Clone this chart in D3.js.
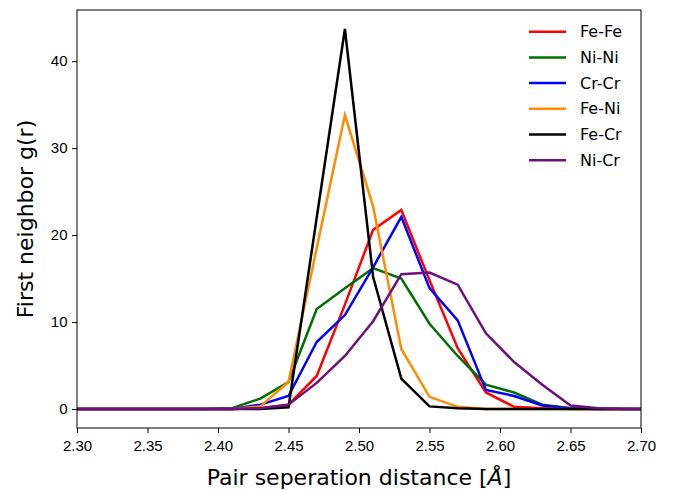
<!DOCTYPE html>
<html>
<head>
<meta charset="utf-8">
<script src="https://cdn.jsdelivr.net/npm/d3@7"></script>
<style>
  body { margin: 0; background: #fff; }
  svg { font-family: 'DejaVu Sans', sans-serif; }
</style>
</head>
<body>
<div id="chart"></div>
<script>
// pair separation distances (Å)
const distances = [2.29, 2.31, 2.33, 2.35, 2.37, 2.39, 2.41, 2.43, 2.45, 2.47, 2.49, 2.51, 2.53, 2.55, 2.57, 2.59, 2.61, 2.63, 2.65, 2.67, 2.69, 2.71]

const feFe = [0, 0, 0, 0, 0, 0, 0, 0.1, 0.5, 3.8, 12.0, 20.6, 22.9, 14.8, 7.0, 1.9, 0.25, 0.1, 0, 0, 0, 0]
const niNi = [0, 0, 0, 0, 0, 0, 0.1, 1.2, 3.1, 11.5, 13.9, 16.2, 15.0, 9.8, 6.1, 2.8, 1.9, 0.5, 0.1, 0, 0, 0]
const crCr = [0, 0, 0, 0, 0, 0, 0, 0.5, 1.5, 7.7, 10.8, 16.3, 22.1, 13.9, 10.2, 2.2, 1.5, 0.4, 0.1, 0, 0, 0]
const feNi = [0, 0, 0, 0, 0, 0, 0, 0.3, 3.1, 18.5, 33.8, 23.3, 6.9, 1.4, 0.25, 0, 0, 0, 0, 0, 0, 0]
const feCr = [0, 0, 0, 0, 0, 0, 0, 0, 0.2, 22.0, 43.7, 15.2, 3.5, 0.3, 0.1, 0, 0, 0, 0, 0, 0, 0]
const niCr = [0, 0, 0, 0, 0, 0, 0, 0.1, 0.5, 3.0, 6.1, 10.1, 15.5, 15.7, 14.3, 8.7, 5.4, 2.8, 0.4, 0.1, 0, 0]

const seriesNames = ['Fe-Fe', 'Ni-Ni', 'Cr-Cr', 'Fe-Ni', 'Fe-Cr', 'Ni-Cr']
const seriesColors = ['#ff0000', '#007000', '#0000ff', '#ff8c00', '#000000', '#6e0f7c']
const seriesValues = [feFe, niNi, crCr, feNi, feCr, niCr]

const xTicks = [2.30, 2.35, 2.40, 2.45, 2.50, 2.55, 2.60, 2.65, 2.70]
const yTicks = [0, 10, 20, 30, 40]

const width = 685
const height = 490
const margin = {left: 77, right: 44, top: 10, bottom: 62}

const svg = d3.select('#chart').append('svg')
	.attr('width', width)
	.attr('height', height)

const x = d3.scaleLinear()
	.domain([2.30, 2.70])
	.range([margin.left, width - margin.right])

const yMax = d3.max(seriesValues, s => d3.max(s))
const y = d3.scaleLinear()
	.domain([-yMax*0.05, yMax*1.05])
	.range([height - margin.bottom, margin.top])

svg.append('clipPath').attr('id', 'plot-clip')
	.append('rect')
	.attr('x', margin.left)
	.attr('y', margin.top)
	.attr('width', width - margin.left - margin.right)
	.attr('height', height - margin.top - margin.bottom)

const line = d3.line()
	.x((d, i) => x(distances[i]))
	.y(d => y(d))

svg.append('g')
	.attr('clip-path', 'url(#plot-clip)')
	.selectAll('path')
	.data(seriesValues)
	.enter()
	.append('path')
	.attr('d', line)
	.attr('fill', 'none')
	.attr('stroke', (d, i) => seriesColors[i])
	.attr('stroke-width', 2.5)
	.attr('stroke-linejoin', 'miter')

// frame
svg.append('rect')
	.attr('x', margin.left)
	.attr('y', margin.top)
	.attr('width', width - margin.left - margin.right)
	.attr('height', height - margin.top - margin.bottom)
	.attr('fill', 'none')
	.attr('stroke', '#000')
	.attr('stroke-width', 1)

const xAxis = svg.append('g')
	.attr('transform', `translate(0,${height - margin.bottom})`)
	.call(d3.axisBottom(x).tickValues(xTicks).tickFormat(d3.format('.2f')).tickSize(5).tickSizeOuter(0))
xAxis.select('.domain').remove()
xAxis.selectAll('text').attr('font-size', 15).attr('dy', '1.0em').attr('fill', '#000')

const yAxis = svg.append('g')
	.attr('transform', `translate(${margin.left},0)`)
	.call(d3.axisLeft(y).tickValues(yTicks).tickSize(5).tickSizeOuter(0))
yAxis.select('.domain').remove()
yAxis.selectAll('text').attr('font-size', 15).attr('dx', '-0.1em').attr('fill', '#000')

svg.append('text')
	.attr('x', (margin.left + width - margin.right) / 2)
	.attr('y', 485)
	.attr('text-anchor', 'middle')
	.attr('font-size', 22)
	.html('Pair seperation distance [<tspan font-style="italic">Å</tspan>]')

svg.append('text')
	.attr('transform', `translate(33,${(margin.top + height - margin.bottom) / 2}) rotate(-90)`)
	.attr('text-anchor', 'middle')
	.attr('font-size', 22)
	.text('First neighbor g(r)')

// legend
const legend = svg.append('g')
	.selectAll('g')
	.data(seriesNames)
	.enter()
	.append('g')
	.attr('transform', (d, i) => `translate(529,${31.7 + i*25.7})`)

legend.append('line')
	.attr('x1', 0).attr('x2', 37)
	.attr('stroke', (d, i) => seriesColors[i])
	.attr('stroke-width', 2.5)

legend.append('text')
	.attr('x', 51)
	.attr('dy', '0.35em')
	.attr('font-size', 16)
	.text(d => d)
</script>
</body>
</html>
